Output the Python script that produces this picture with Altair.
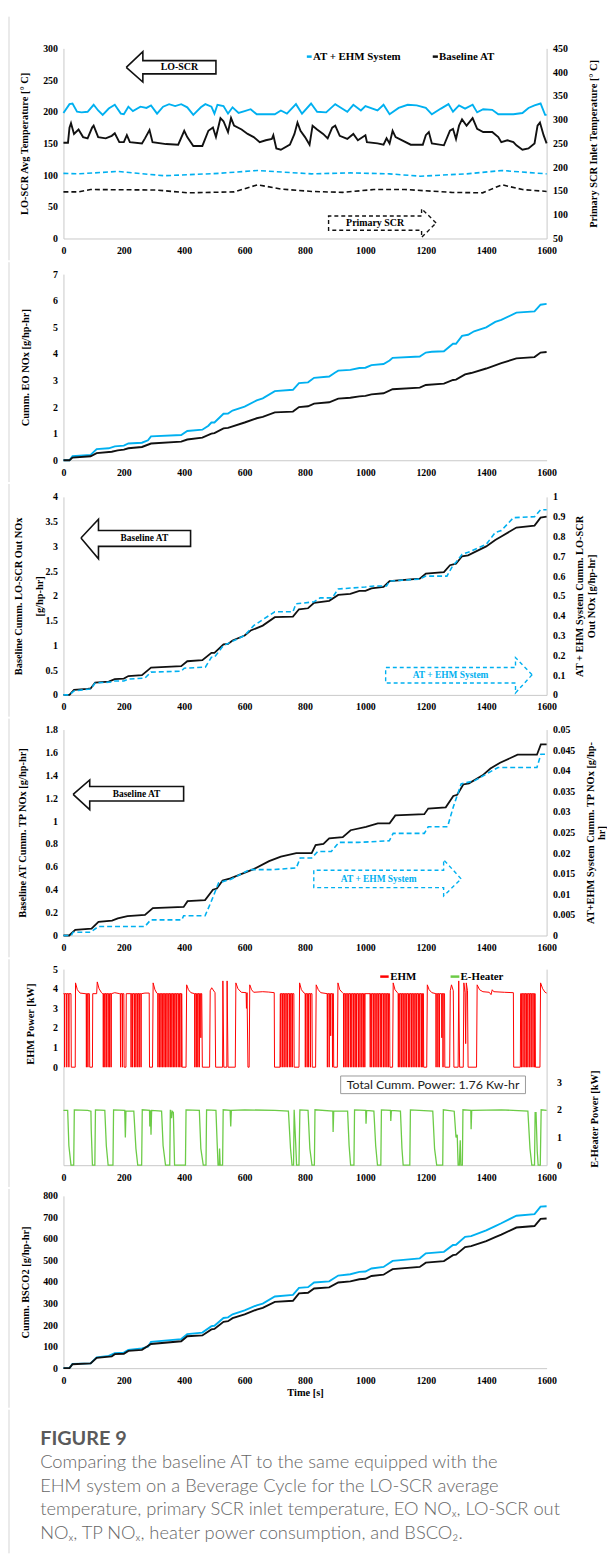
import altair as alt
import pandas as pd

# ---------------- style constants ----------------
FONT = "Liberation Serif"
CAPFONT = "Lato"
BLUE = "#00B0F0"
BLACK = "#111111"
RED = "#FF0000"
GREEN = "#6CCB46"
DOMAIN = "#C8C8C8"
BORDER = "#D4D4D4"
W = 488
X_TICKS = [0, 200, 400, 600, 800, 1000, 1200, 1400, 1600]

# ---------------- panel 1 : temperatures ----------------
P1_LO_EHM = [(0,198),(20,212),(30,213),(45,200),(60,199),(80,200),(100,211),(115,202),(130,195),(150,205),
             (170,211),(190,197),(200,196),(215,208),(230,201),(255,208),(275,206),(290,210),(310,197),(330,208),
             (350,212),(370,209),(390,212),(410,207),(430,195),(455,207),(470,212),(490,208),(500,197),(510,211),
             (530,209),(545,197),(560,207),(580,198),(600,201),(620,204),(640,196),(700,196),(720,202),(740,197),
             (770,212),(790,197),(820,213),(840,200),(870,199),(900,212),(920,206),(940,200),(960,211),(985,202),
             (1000,209),(1040,202),(1060,211),(1080,196),(1110,206),(1140,211),(1170,210),(1200,206),(1220,196),
             (1250,205),(1275,212),(1290,200),(1310,210),(1330,205),(1355,211),(1370,199),(1390,204),(1420,203),
             (1440,196),(1490,196),(1520,198),(1540,206),(1560,210),(1580,213),(1595,195),(1600,195)]
P1_LO_BASE = [(0,151),(15,151),(20,175),(25,182),(35,165),(50,172),(65,160),(80,158),(95,175),(100,178),
              (115,160),(140,158),(160,162),(170,166),(185,152),(200,152),(210,163),(220,152),(260,150),(270,158),
              (285,171),(295,152),(340,149),(380,148),(400,170),(410,160),(430,146),(460,146),(480,170),(495,175),
              (505,160),(515,180),(520,190),(530,185),(545,168),(555,190),(565,178),(590,172),(610,165),(630,160),
              (650,152),(670,155),(690,157),(695,163),(705,142),(720,140),(750,148),(765,165),(775,183),(785,170),
              (800,160),(815,148),(825,178),(840,172),(860,165),(875,158),(890,175),(900,178),(915,162),(940,157),
              (960,165),(975,155),(1000,163),(1005,152),(1040,150),(1060,148),(1070,158),(1080,150),(1090,170),
              (1100,160),(1150,148),(1190,148),(1200,163),(1210,168),(1220,150),(1260,147),(1280,170),(1290,173),
              (1300,157),(1310,178),(1320,188),(1335,178),(1355,190),(1370,173),(1390,168),(1420,168),(1440,160),
              (1450,152),(1470,155),(1490,152),(1500,147),(1520,140),(1540,142),(1560,150),(1570,178),(1578,183),
              (1590,163),(1600,150)]
P1_PRI_EHM = [(0,187),(50,186),(180,191),(334,182),(514,187),(642,193),(822,186),(951,188),(1079,186),
              (1182,181),(1336,186),(1452,193),(1600,186)]
P1_PRI_BASE = [(0,148),(51,148),(90,153),(308,152),(411,146),(565,148),(643,163),(720,154),(822,149),
               (925,147),(1028,153),(1131,153),(1285,147),(1388,146),(1452,163),(1520,153),(1600,149)]
ARROW_LOSCR = [(208,270),(263,294.8),(263,280.7),(505,280.7),(505,259.8),(263,259.8),(263,246.8),(208,270)]
ARROW_PRIMARY = [(1234,24.5),(1186,47),(1186,35.5),(878,35.5),(878,13),(1186,13),(1186,1.6),(1234,24.5)]

# ---------------- panel 2 : cumulative EO NOx ----------------
P2_EHM = [(0,0),(20,0),(30,0.15),(90,0.2),(110,0.42),(150,0.45),(170,0.52),(200,0.55),(215,0.63),(260,0.66),
          (280,0.75),(290,0.9),(390,0.95),(410,1.1),(460,1.15),(480,1.3),(490,1.42),(500,1.42),(530,1.75),
          (545,1.76),(560,1.87),(600,2.02),(640,2.25),(660,2.33),(700,2.6),(760,2.65),(780,2.9),(810,2.93),
          (830,3.1),(880,3.15),(900,3.3),(910,3.37),(950,3.4),(980,3.47),(1000,3.48),(1020,3.58),(1060,3.62),
          (1080,3.75),(1090,3.85),(1180,3.9),(1200,4.05),(1220,4.08),(1260,4.1),(1290,4.38),(1300,4.38),
          (1320,4.68),(1340,4.72),(1360,4.85),(1400,5.0),(1430,5.2),(1450,5.28),(1500,5.55),(1560,5.6),
          (1580,5.85),(1600,5.88)]
P2_BASE = [(0,0),(20,0),(30,0.1),(90,0.15),(110,0.27),(160,0.32),(180,0.37),(200,0.4),(215,0.45),(260,0.5),
           (290,0.63),(390,0.7),(410,0.78),(460,0.85),(490,1.0),(500,1.02),(530,1.2),(545,1.22),(600,1.42),
           (640,1.58),(660,1.63),(700,1.8),(760,1.83),(780,2.0),(810,2.03),(830,2.13),(880,2.18),(910,2.32),
           (950,2.35),(980,2.4),(1000,2.42),(1020,2.48),(1060,2.52),(1090,2.67),(1180,2.73),(1200,2.83),
           (1260,2.88),(1290,3.02),(1300,3.03),(1330,3.23),(1350,3.28),(1400,3.45),(1450,3.65),(1500,3.83),
           (1560,3.88),(1580,4.05),(1600,4.07)]

# ---------------- panel 3 : LO-SCR out NOx ----------------
P3_BASE = [(0,0),(20,0),(35,0.1),(80,0.12),(90,0.13),(105,0.25),(150,0.27),(170,0.32),(200,0.33),(215,0.38),
           (260,0.4),(280,0.5),(290,0.55),(390,0.58),(410,0.68),(460,0.7),(490,0.85),(500,0.85),(530,1.02),
           (545,1.03),(560,1.1),(600,1.2),(620,1.3),(660,1.4),(700,1.57),(760,1.58),(780,1.73),(810,1.75),
           (830,1.86),(880,1.9),(910,2.02),(950,2.04),(980,2.1),(1000,2.1),(1020,2.15),(1060,2.18),(1080,2.3),
           (1180,2.35),(1200,2.45),(1260,2.48),(1280,2.62),(1300,2.65),(1320,2.8),(1340,2.82),(1400,3.0),
           (1430,3.13),(1450,3.2),(1500,3.38),(1560,3.42),(1580,3.58),(1600,3.6)]
P3_EHM = [(0,0),(20,0),(35,0.02),(90,0.03),(105,0.06),(160,0.065),(170,0.07),(200,0.07),(215,0.08),(270,0.085),
          (290,0.115),(390,0.12),(400,0.135),(470,0.14),(490,0.19),(500,0.19),(530,0.25),(545,0.26),(600,0.3),
          (630,0.35),(660,0.38),(700,0.42),(760,0.42),(770,0.46),(830,0.47),(850,0.49),(890,0.49),(910,0.535),
          (1000,0.545),(1030,0.55),(1070,0.55),(1080,0.575),(1180,0.585),(1200,0.6),(1270,0.6),(1290,0.655),
          (1300,0.67),(1320,0.71),(1340,0.72),(1400,0.76),(1430,0.82),(1450,0.83),(1490,0.895),(1560,0.9),
          (1580,0.935),(1600,0.935)]
ARROW_P3_BASE = [(58,3.17),(116,3.55),(116,3.32),(421,3.32),(421,3.0),(116,3.0),(116,2.75),(58,3.17)]
ARROW_P3_EHM = [(1552,0.407),(1497,0.753),(1497,0.553),(1067,0.553),(1067,0.24),(1497,0.24),(1497,0.04),(1552,0.407)]

# ---------------- panel 4 : tailpipe NOx ----------------
P4_BASE = [(0,0),(19,0),(39,0.05),(93,0.06),(116,0.12),(161,0.13),(180,0.15),(212,0.17),(270,0.18),(296,0.24),
           (398,0.25),(411,0.3),(469,0.31),(495,0.4),(508,0.41),(527,0.48),(553,0.5),(630,0.58),(681,0.65),
           (720,0.69),(771,0.72),(822,0.72),(835,0.79),(861,0.8),(880,0.85),(925,0.86),(951,0.92),(1002,0.95),
           (1041,0.98),(1080,0.98),(1099,1.05),(1195,1.06),(1208,1.11),(1266,1.12),(1291,1.22),(1304,1.23),
           (1324,1.32),(1343,1.33),(1388,1.4),(1414,1.46),(1446,1.51),(1504,1.58),(1568,1.58),(1581,1.67),
           (1600,1.67)]
P4_EHM = [(0,0),(26,0),(32,0.0008),(90,0.0008),(116,0.0022),(270,0.0022),(289,0.0038),(392,0.0038),
          (398,0.0048),(469,0.0048),(488,0.008),(514,0.0128),(553,0.0136),(617,0.016),(694,0.016),(771,0.0164),
          (784,0.0188),(822,0.0188),(842,0.0204),(887,0.0204),(912,0.0226),(977,0.0226),(1079,0.023),
          (1092,0.0248),(1195,0.0248),(1208,0.0264),(1272,0.0264),(1291,0.0312),(1317,0.0368),(1362,0.0376),
          (1439,0.0408),(1568,0.0408),(1581,0.044),(1600,0.044)]
ARROW_P4_BASE = [(32,1.233),(87,1.359),(87,1.302),(398,1.302),(398,1.175),(87,1.175),(87,1.100),(32,1.233)]
ARROW_P4_EHM = [(1317,0.495),(1259,0.662),(1259,0.570),(829,0.570),(829,0.418),(1259,0.418),(1259,0.346),(1317,0.495)]

# ---------------- panel 5 : heater power ----------------
EHM_ON = 3.75
EHM_ENV = [(0,3.75),(25,3.75),(26,0),(39,0),(40,4.3),(46,3.95),(55,3.78),(72,3.75),(86,3.75),(87,0),(96,0),
           (97,3.75),(110,3.75),(112,4.35),(118,4.0),(126,3.8),(130,3.75),(159,3.75),(170,3.8),(186,3.75),
           (200,3.75),(201,0),(207,0),(208,3.75),(259,3.75),(270,3.78),(284,3.78),(285,0),(295,0),(297,4.3),
           (303,3.95),(309,3.78),(392,3.75),(393,0),(406,0),(408,4.2),(414,3.95),(422,3.8),(458,3.75),(460,0),
           (484,0),(486,3.9),(491,4.05),(502,3.8),(504,0),(527,0),(528,4.4),(531,0),(541,0),(542,4.4),(545,0),
           (569,0),(571,4.3),(578,4.0),(589,3.82),(605,3.8),(606,3.0),(608,3.8),(611,0),(615,0),(617,4.2),
           (623,3.95),(630,3.82),(660,3.85),(680,3.83),(698,3.8),(699,0),(717,0),(718,3.75),(763,3.75),(764,0),
           (780,0),(782,4.3),(788,3.95),(797,3.78),(823,3.75),(824,0),(835,0),(837,4.2),(844,3.95),(852,3.8),
           (894,3.75),(895,0),(907,0),(909,4.3),(915,3.95),(924,3.8),(1080,3.75),(1081,0),(1090,0),(1092,4.3),
           (1098,3.95),(1106,3.8),(1192,3.75),(1193,0),(1203,0),(1205,4.2),(1211,3.95),(1220,3.8),(1262,3.75),
           (1263,0),(1279,0),(1281,3.9),(1285,4.2),(1291,3.9),(1293,0),(1307,0),(1309,4.4),(1312,0),(1324,0),
           (1326,4.3),(1330,3.8),(1332,1.2),(1334,4.3),(1338,3.9),(1340,0),(1368,0),(1370,4.2),(1378,3.95),
           (1389,3.85),(1410,3.82),(1416,3.7),(1420,3.95),(1425,3.85),(1460,3.82),(1490,3.8),(1491,0),(1513,0),
           (1514,3.75),(1562,3.75),(1563,0),(1578,0),(1580,4.3),(1587,4.0),(1595,3.82),(1600,3.78)]
EHM_DIPS = [4,11,18,76,81,132,137,142,148,153,158,189,195,224,229,235,240,246,251,257,
            313,318,323,328,333,338,343,349,354,359,364,369,374,380,385,390,435,440,445,450,
            720,726,731,737,742,748,753,758,801,807,812,818,874,880,891,
            928,933,939,944,950,955,961,966,971,977,982,988,993,998,
            1016,1021,1027,1032,1038,1043,1049,1054,1060,1065,1071,1076,
            1109,1114,1120,1125,1131,1136,1142,1147,1153,1158,1164,1169,1175,1180,1186,1190,
            1234,1240,1245,1257,1517,1522,1528,1533,1538,1544,1549,1555,1560]
EHM_PARTIAL = [(455,1.5),(885,1.6),(1253,1.5)]
EHEATER = [(0,1.98),(14,1.98),(18,0.7),(25,0),(34,0),(36,2.0),(80,1.98),(91,1.95),(92,1.3),(96,0),(104,0),
           (106,2.0),(137,1.98),(142,0.7),(148,0),(164,0),(166,2.0),(203,1.98),(205,1.0),(207,1.95),(233,1.95),
           (240,0.6),(246,0),(259,0),(261,2.0),(285,1.98),(286,1.4),(288,1.98),(290,1.1),(292,1.98),(325,1.95),
           (330,0.7),(338,0),(352,0),(354,2.0),(358,1.7),(360,1.95),(364,1.9),(368,0),(404,0),(406,2.0),
           (450,1.98),(455,0.6),(463,0),(472,0),(474,2.0),(505,1.98),(509,0.8),(512,0),(516,0),(517,0.6),
           (519,0),(527,0),(529,2.0),(552,1.98),(554,1.4),(556,1.98),(600,2.0),(700,1.98),(745,1.95),(752,0.6),
           (757,0),(762,0),(764,2.0),(769,0.8),(772,0),(780,0),(783,2.0),(810,1.98),(816,0.6),(823,0),(831,0),
           (833,2.0),(892,1.95),(893,1.2),(895,1.95),(941,1.95),(946,0.7),(951,0),(962,0),(964,2.0),
           (1001,1.98),(1002,1.5),(1004,1.98),(1028,1.95),(1034,0.7),(1040,0),(1051,0),(1053,2.0),(1083,1.98),
           (1084,1.6),(1086,1.98),(1116,1.95),(1121,0.6),(1125,0),(1147,0),(1149,2.0),(1223,1.95),(1229,0.6),
           (1236,0),(1256,0),(1258,2.0),(1294,1.95),(1300,1.0),(1304,1.1),(1307,0),(1311,0),(1314,0.9),
           (1316,0),(1321,0),(1323,2.0),(1349,1.98),(1350,1.3),(1352,1.98),(1450,2.0),(1538,1.95),(1545,0.6),
           (1551,0),(1560,0),(1562,1.9),(1565,1.9),(1569,0.5),(1572,0),(1579,0),(1582,2.0),(1600,1.98)]
BOX_T = [918, 1530]
BOX_V = [-0.45, -1.35]
BOX_TEXT = "Total Cumm. Power: 1.76 Kw-hr"

# ---------------- panel 6 : BSCO2 ----------------
P6_EHM = [(0,0),(20,0),(30,20),(90,22),(110,50),(150,57),(170,70),(200,72),(215,85),(260,92),(280,100),
          (290,122),(390,135),(410,158),(460,165),(490,195),(500,197),(530,233),(545,236),(560,250),(600,268),
          (640,292),(660,300),(700,333),(760,340),(780,373),(810,376),(830,398),(880,403),(910,430),(950,436),
          (980,447),(1000,449),(1020,463),(1060,470),(1090,498),(1180,510),(1200,533),(1260,540),(1290,572),
          (1300,573),(1330,610),(1350,613),(1400,640),(1430,660),(1450,673),(1500,708),(1560,715),(1580,750),
          (1600,752)]
P6_BASE = [(0,0),(20,0),(30,18),(90,22),(110,48),(160,55),(170,65),(200,67),(215,80),(260,85),(290,112),
           (390,125),(410,148),(460,152),(490,180),(500,182),(530,215),(545,218),(560,232),(600,250),(640,272),
           (660,280),(700,308),(760,313),(780,347),(810,350),(830,370),(880,375),(910,398),(950,403),(980,413),
           (1000,415),(1020,428),(1060,434),(1090,460),(1180,470),(1200,490),(1260,497),(1290,525),(1300,527),
           (1330,562),(1350,567),(1400,590),(1430,608),(1450,620),(1500,653),(1560,660),(1580,693),(1600,695)]

CAPTION_HEAD = "FIGURE 9"
CAPTION_LINES = ["Comparing the baseline AT to the same equipped with the",
                 "EHM system on a Beverage Cycle for the LO-SCR average",
                 "temperature, primary SCR inlet temperature, EO NO\u2093, LO-SCR out",
                 "NO\u2093, TP NO\u2093, heater power consumption, and BSCO\u2082."]

# ---------------- helpers ----------------
XSCALE = alt.Scale(domain=[0, 1600], nice=False, zero=False)
ONE = pd.DataFrame({"k": [0]})


def frame(pairs):
    return pd.DataFrame(pairs, columns=["t", "v"])


def ysc(lo, hi):
    return alt.Scale(domain=[lo, hi], nice=False, zero=False)


def xaxis(title=None):
    return alt.Axis(values=X_TICKS, title=title, format="d", labelPadding=7, titlePadding=3)


def enc(ctx):
    return dict(x=alt.X("t:Q", scale=XSCALE, axis=ctx["xa"]),
                y=alt.Y("v:Q", scale=ctx["ys"], axis=ctx["ya"]))


def series(pairs, color, width, ctx, dash=None):
    kw = {"color": color, "strokeWidth": width}
    if dash:
        kw["strokeDash"] = dash
    return alt.Chart(frame(pairs)).mark_line(**kw).encode(**enc(ctx))


def outline(pairs, color, ctx, dash=None, width=1.4):
    d = frame(pairs)
    d["o"] = list(range(len(d)))
    kw = {"color": color, "strokeWidth": width}
    if dash:
        kw["strokeDash"] = dash
    return alt.Chart(d).mark_line(**kw).encode(order="o:Q", **enc(ctx))


def label(t, v, s, ctx, size=10, color="black", align="center", font=FONT, weight="bold"):
    d = pd.DataFrame({"t": [t], "v": [v], "s": [s]})
    return alt.Chart(d).mark_text(font=font, fontSize=size, fontWeight=weight, color=color,
                                  align=align, baseline="middle").encode(text="s:N", **enc(ctx))


def swatch(t0, t1, v, color, ctx):
    d = pd.DataFrame({"t": [t0], "t2": [t1], "v": [v]})
    return alt.Chart(d).mark_rule(color=color, strokeWidth=2.5).encode(x2="t2:Q", **enc(ctx))


def border(top, bottom):
    return alt.Chart(ONE).mark_rule(color=BORDER, strokeWidth=1).encode(
        x=alt.value(-55), y=alt.value(top), y2=alt.value(bottom))


def laxis(values, title, tx, **kw):
    return alt.Axis(values=values, title=title, orient="left", titleX=tx, titleBaseline="middle",
                    labelPadding=6, format="~f", **kw)


def raxis(values, title, tx, **kw):
    opts = dict(values=values, title=title, orient="right", titleX=tx, titleAngle=270,
                titleBaseline="middle", format="~f")
    opts.update(kw)
    if "labelPadding" not in opts:
        opts["labelPadding"] = 6
    return alt.Axis(**opts)


H1, H2, H3, H4, H5, H6 = 192, 188, 200, 208, 198, 174
XA = xaxis()
XA6 = xaxis("Time [s]")

# ---------------- panel 1 ----------------
L1 = {"xa": XA, "ys": ysc(0, 300),
      "ya": laxis([0, 50, 100, 150, 200, 250, 300], "LO-SCR Avg Temperature [\u00b0 C]", -39)}
R1 = {"xa": XA, "ys": ysc(50, 450),
      "ya": raxis([50, 100, 150, 200, 250, 300, 350, 400, 450], "Primary SCR Inlet Temperature [\u00b0 C]", 47)}
left1 = alt.layer(
    series(P1_LO_EHM, BLUE, 1.9, L1),
    series(P1_LO_BASE, BLACK, 1.9, L1),
    outline(ARROW_LOSCR, BLACK, L1, width=1.6),
    label(384, 270, "LO-SCR", L1, size=10),
    outline(ARROW_PRIMARY, BLACK, L1, dash=[4, 3], width=1.4),
    label(1032, 24, "Primary SCR", L1, size=10),
    swatch(806, 822, 287, BLUE, L1),
    label(826, 287, "AT + EHM System", L1, size=11, align="left"),
    swatch(1223, 1240, 287, BLACK, L1),
    label(1244, 287, "Baseline AT", L1, size=11, align="left"),
    border(-32, H1 + 22),
)
right1 = alt.layer(
    series(P1_PRI_EHM, BLUE, 1.6, R1, dash=[5, 3]),
    series(P1_PRI_BASE, BLACK, 1.6, R1, dash=[5, 3]),
)
p1 = alt.layer(left1, right1).resolve_scale(y="independent").properties(width=W, height=H1)

# ---------------- panel 2 ----------------
L2 = {"xa": XA, "ys": ysc(0, 7),
      "ya": laxis([0, 1, 2, 3, 4, 5, 6, 7], "Cumm. EO NOx [g/hp-hr]", -38.5)}
p2 = alt.layer(
    series(P2_EHM, BLUE, 1.9, L2),
    series(P2_BASE, BLACK, 1.9, L2),
    border(-12, H2 + 22),
).properties(width=W, height=H2)

# ---------------- panel 3 ----------------
L3 = {"xa": XA, "ys": ysc(0, 4),
      "ya": laxis([0, 0.5, 1, 1.5, 2, 2.5, 3, 3.5, 4],
                  ["Baseline Cumm. LO-SCR Out NOx", "[g/hp-hr]"], -45.5, titleLineHeight=21)}
R3 = {"xa": XA, "ys": ysc(0, 1),
      "ya": raxis([0, 0.1, 0.2, 0.3, 0.4, 0.5, 0.6, 0.7, 0.8, 0.9, 1],
                  ["AT + EHM System Cumm. LO-SCR", "Out NOx [g/hp-hr]"], 33, titleLineHeight=12)}
left3 = alt.layer(
    series(P3_BASE, BLACK, 1.8, L3),
    outline(ARROW_P3_BASE, BLACK, L3, width=1.6),
    label(268, 3.16, "Baseline AT", L3, size=9.5),
    outline(ARROW_P3_EHM, BLUE, L3, dash=[4, 3], width=1.4),
    label(1282, 0.40, "AT + EHM System", L3, size=9.5, color=BLUE),
    border(-13, H3 + 22),
)
right3 = alt.layer(series(P3_EHM, BLUE, 1.6, R3, dash=[5, 3]))
p3 = alt.layer(left3, right3).resolve_scale(y="independent").properties(width=W, height=H3)

# ---------------- panel 4 ----------------
L4 = {"xa": XA, "ys": ysc(0, 1.8),
      "ya": laxis([0, 0.2, 0.4, 0.6, 0.8, 1, 1.2, 1.4, 1.6, 1.8], "Baseline AT Cumm. TP NOx [g/hp-hr]", -41)}
R4 = {"xa": XA, "ys": ysc(0, 0.05),
      "ya": raxis([0, 0.005, 0.01, 0.015, 0.02, 0.025, 0.03, 0.035, 0.04, 0.045, 0.05],
                  ["AT+EHM System Cumm. TP NOx [g/hp-", "hr]"], 44, titleLineHeight=11)}
left4 = alt.layer(
    series(P4_BASE, BLACK, 1.8, L4),
    outline(ARROW_P4_BASE, BLACK, L4, width=1.6),
    label(242, 1.237, "Baseline AT", L4, size=9.5),
    outline(ARROW_P4_EHM, BLUE, L4, dash=[4, 3], width=1.4),
    label(1044, 0.494, "AT + EHM System", L4, size=9.5, color=BLUE),
    border(-11, H4 + 22),
)
right4 = alt.layer(series(P4_EHM, BLUE, 1.6, R4, dash=[5, 3]))
p4 = alt.layer(left4, right4).resolve_scale(y="independent").properties(width=W, height=H4)

# ---------------- panel 5 ----------------
ehm_pts = list(EHM_ENV)
for d in EHM_DIPS:
    ehm_pts += [(d - 0.7, EHM_ON), (d, 0.0), (d + 0.7, EHM_ON)]
for d, lvl in EHM_PARTIAL:
    ehm_pts += [(d - 0.7, EHM_ON), (d, lvl), (d + 0.7, EHM_ON)]
ehm_pts.sort()

L5 = {"xa": XA, "ys": ysc(-5, 5),
      "ya": laxis([0, 1, 2, 3, 4, 5], "EHM Power [kW]", -33.5, titleY=55)}
R5 = {"xa": XA, "ys": ysc(0, 7.08),
      "ya": raxis([0, 1, 2, 3], "E-Heater Power [kW]", 48, titleY=151, labelPadding=10)}
box_df = pd.DataFrame({"t": [BOX_T[0]], "t2": [BOX_T[1]], "v": [BOX_V[0]], "v2": [BOX_V[1]]})
left5 = alt.layer(
    series(ehm_pts, RED, 1.0, L5),
    alt.Chart(box_df).mark_rect(fill="white", stroke="#9A9A9A", strokeWidth=1).encode(
        x2="t2:Q", y2="v2:Q", **enc(L5)),
    label((BOX_T[0] + BOX_T[1]) / 2, (BOX_V[0] + BOX_V[1]) / 2, BOX_TEXT, L5, size=12.5,
          color="#222222", font="Lato", weight="normal"),
    swatch(1049, 1077, 4.62, RED, L5),
    label(1082, 4.62, "EHM", L5, size=11, align="left"),
    swatch(1282, 1311, 4.62, GREEN, L5),
    label(1315, 4.62, "E-Heater", L5, size=11, align="left"),
    border(-10, H5 + 22),
)
right5 = alt.layer(series(EHEATER, GREEN, 1.3, R5))
p5 = alt.layer(left5, right5).resolve_scale(y="independent").properties(width=W, height=H5)

# ---------------- panel 6 ----------------
L6 = {"xa": XA6, "ys": ysc(0, 800),
      "ya": laxis([0, 100, 200, 300, 400, 500, 600, 700, 800], "Cumm. BSCO2 [g/hp-hr]", -38)}
p6 = alt.layer(
    series(P6_EHM, BLUE, 1.9, L6),
    series(P6_BASE, BLACK, 1.9, L6),
    border(-7, H6 + 40),
).properties(width=W, height=H6)

# ---------------- caption ----------------
cap = alt.layer(
    border(0, 145),
    alt.Chart(ONE).mark_text(font=CAPFONT, fontSize=20, fontWeight="bold", color="#5A5A5A",
                             align="left", baseline="alphabetic").encode(
        x=alt.value(-23.5), y=alt.value(36), text=alt.value(CAPTION_HEAD)),
    alt.Chart(ONE).mark_text(font=CAPFONT, fontSize=18.5, fontWeight=300, color="#666666", align="left",
                             baseline="alphabetic", lineHeight=23.7).encode(
        x=alt.value(-23.5), y=alt.value(59), text=alt.value(CAPTION_LINES)),
).properties(width=W, height=100)

chart = alt.vconcat(p1, p2, p3, p4, p5, p6, cap, spacing=0).properties(
    padding={"left": 0, "top": 0, "right": 0, "bottom": 0}
).configure_axis(
    labelFont=FONT, labelFontSize=10, labelFontWeight="bold", labelColor="#000000",
    titleFont=FONT, titleFontSize=10.5, titleFontWeight="bold", titleColor="#000000",
    domainColor=DOMAIN, domainWidth=1, ticks=False, grid=False,
    labelFlush=False, labelOverlap=False,
).configure_view(stroke=None)

chart.save("out.html", embed_options={"renderer": "svg", "actions": False})
